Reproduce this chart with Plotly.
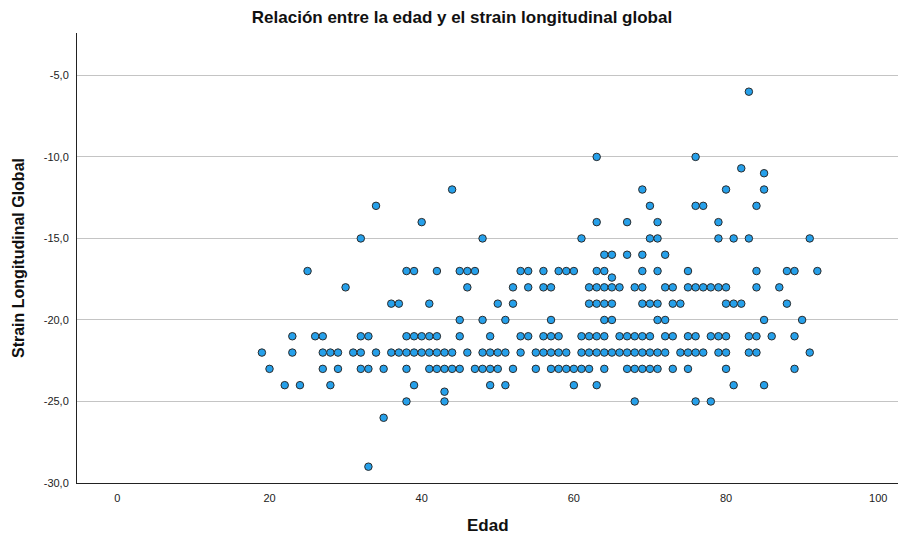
import plotly.graph_objects as go

# Ages (Edad) per Strain Longitudinal Global level
edad_m6 = [83]
edad_m10 = [63, 76]
edad_m10_7 = [82]
edad_m11 = [85]
edad_m12 = [44, 69, 80, 85]
edad_m13 = [34, 70, 76, 77, 84]
edad_m14 = [40, 63, 67, 71, 79]
edad_m15 = [32, 48, 61, 70, 71, 79, 81, 83, 91]
edad_m16 = [64, 65, 67, 69, 72]
edad_m17 = [25, 38, 39, 42, 45, 46, 47, 53, 54, 56, 58, 59, 60, 63, 64, 69, 71, 75, 84, 88, 89, 92]
edad_m17_4 = [65]
edad_m18 = [30, 46, 52, 54, 56, 57, 62, 63, 64, 65, 66, 68, 69, 72, 73, 75, 76, 77, 78, 79, 80, 84, 87]
edad_m19 = [36, 37, 41, 50, 52, 62, 63, 64, 65, 69, 70, 71, 73, 74, 80, 81, 82, 88]
edad_m20 = [45, 48, 51, 57, 64, 65, 71, 72, 85, 90]
edad_m21 = [23, 26, 27, 32, 33, 38, 39, 40, 41, 42, 45, 49, 53, 54, 56, 57, 58, 61, 62, 63, 64,
            66, 67, 68, 69, 70, 72, 73, 75, 76, 78, 79, 80, 83, 84, 86, 89]
edad_m22 = [19, 23, 27, 28, 29, 31, 32, 34, 36, 37, 38, 39, 40, 41, 42, 43, 44, 46, 48, 49, 50,
            51, 53, 55, 56, 57, 58, 59, 61, 62, 63, 64, 65, 66, 67, 68, 69, 70, 71, 72, 74, 75,
            76, 77, 79, 80, 83, 84, 91]
edad_m23 = [20, 27, 29, 32, 33, 35, 38, 41, 42, 43, 44, 45, 47, 48, 49, 50, 52, 55, 57, 58, 59,
            60, 61, 62, 64, 67, 68, 69, 70, 71, 73, 75, 80, 89]
edad_m24 = [22, 24, 28, 39, 49, 51, 60, 63, 81, 85]
edad_m24_4 = [43]
edad_m25 = [38, 43, 68, 76, 78]
edad_m26 = [35]
edad_m29 = [33]

strain_levels = [-6, -10, -10.7, -11, -12, -13, -14, -15, -16, -17, -17.4, -18, -19, -20,
                 -21, -22, -23, -24, -24.4, -25, -26, -29]
age_groups = [edad_m6, edad_m10, edad_m10_7, edad_m11, edad_m12, edad_m13, edad_m14, edad_m15,
              edad_m16, edad_m17, edad_m17_4, edad_m18, edad_m19, edad_m20, edad_m21, edad_m22,
              edad_m23, edad_m24, edad_m24_4, edad_m25, edad_m26, edad_m29]

x_ticks = [0, 20, 40, 60, 80, 100]
y_ticks = [-30, -25, -20, -15, -10, -5]
y_ticktext = ["-30,0", "-25,0", "-20,0", "-15,0", "-10,0", "-5,0"]

edad = []
strain = []
for lvl, ages in zip(strain_levels, age_groups):
    for a in ages:
        edad.append(a)
        strain.append(lvl)

FONT = "Liberation Sans, Arial, sans-serif"

fig = go.Figure()
fig.add_trace(go.Scatter(
    x=edad, y=strain, mode="markers",
    marker=dict(size=7.5, color="#26a0ea", line=dict(color="#2b2b2b", width=1)),
    showlegend=False, hoverinfo="x+y",
))

fig.update_layout(
    width=913, height=539,
    margin=dict(l=77, r=15, t=33, b=56),
    paper_bgcolor="white", plot_bgcolor="white",
    font=dict(family=FONT, color="#222222", size=11),
    title=dict(text="<b>Relación entre la edad y el strain longitudinal global</b>",
               x=462 / 913, xanchor="center", y=1 - 17 / 539, yanchor="middle",
               font=dict(family=FONT, size=17, color="#111111")),
    xaxis=dict(range=[-5.3, 102.6], tickvals=x_ticks, showgrid=False, zeroline=False,
               showline=True, linecolor="#222222", linewidth=1,
               ticks="outside", ticklen=5, tickcolor="rgba(0,0,0,0)",
               tickfont=dict(size=11, color="#222222")),
    yaxis=dict(range=[-30, -2.4], tickvals=y_ticks, ticktext=y_ticktext,
               showgrid=True, gridcolor="#c4c4c4", gridwidth=1, zeroline=False,
               showline=True, linecolor="#222222", linewidth=1,
               ticks="outside", ticklen=5, tickcolor="rgba(0,0,0,0)",
               tickfont=dict(size=11, color="#222222")),
    annotations=[
        dict(text="<b>Edad</b>", xref="paper", yref="paper", x=0.5, y=-(525 - 483) / 450,
             xanchor="center", yanchor="middle", showarrow=False,
             font=dict(family=FONT, size=17, color="#111111")),
        dict(text="<b>Strain Longitudinal Global</b>", xref="paper", yref="paper",
             x=-(77 - 18) / 821, y=0.5, xanchor="center", yanchor="middle",
             textangle=-90, showarrow=False,
             font=dict(family=FONT, size=16, color="#111111")),
    ],
)

fig.write_html("out.html")
